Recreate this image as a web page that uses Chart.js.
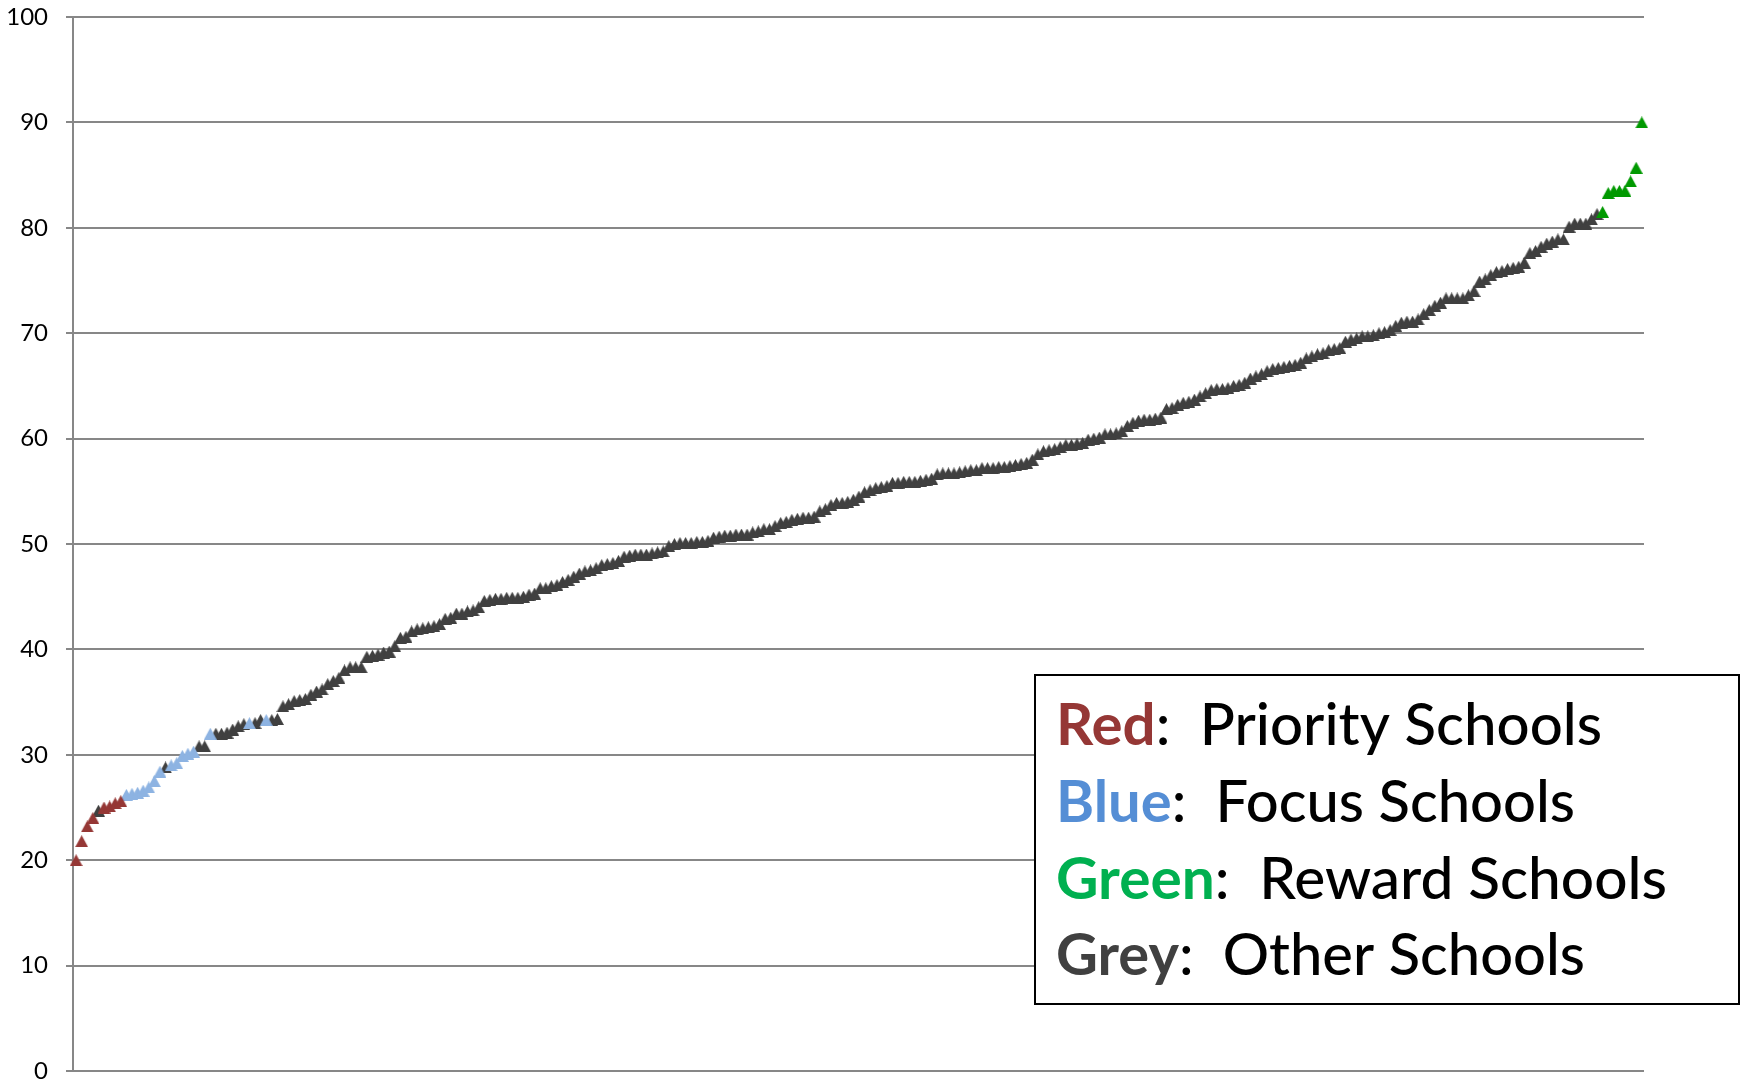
<!DOCTYPE html>
<html>
<head>
<meta charset="utf-8">
<script src="https://cdn.jsdelivr.net/npm/chart.js@4.4.1/dist/chart.umd.min.js"></script>
<style>
  html, body { margin: 0; padding: 0; background: #fff; }
  #wrap { width: 1748px; height: 1081px; position: relative; }
</style>
</head>
<body>
<div id="wrap"><canvas id="chart"></canvas></div>
<script>
// school scores, sorted low to high (rank = position + 1)
const scores = [
  20.0, 21.8, 23.2, 24.0, 24.7, 25.0, 25.1, 25.4, 25.6, 26.2,
  26.3, 26.4, 26.6, 26.9, 27.5, 28.4, 28.8, 29.0, 29.2, 29.9,
  30.1, 30.3, 30.8, 30.8, 32.0, 32.0, 32.0, 32.1, 32.4, 32.7,
  32.9, 33.0, 33.0, 33.3, 33.3, 33.3, 33.4, 34.6, 34.8, 35.1,
  35.2, 35.3, 35.7, 36.0, 36.2, 36.7, 37.0, 37.3, 38.0, 38.3,
  38.3, 38.3, 39.3, 39.4, 39.5, 39.7, 39.8, 40.3, 41.1, 41.2,
  41.7, 41.9, 42.0, 42.1, 42.2, 42.4, 42.9, 43.0, 43.4, 43.4,
  43.6, 43.7, 44.0, 44.6, 44.7, 44.8, 44.8, 44.9, 44.9, 44.9,
  45.0, 45.2, 45.3, 45.8, 45.8, 46.0, 46.1, 46.4, 46.6, 46.9,
  47.2, 47.4, 47.5, 47.7, 48.0, 48.1, 48.2, 48.4, 48.8, 48.9,
  49.0, 49.0, 49.0, 49.1, 49.2, 49.3, 49.8, 50.0, 50.1, 50.1,
  50.1, 50.2, 50.2, 50.3, 50.6, 50.7, 50.8, 50.8, 50.9, 50.9,
  50.9, 51.1, 51.2,
  51.4, 51.4, 51.7, 52.0, 52.1, 52.3, 52.4, 52.5, 52.5, 52.6,
  53.1, 53.3, 53.7, 53.9, 53.9, 54.0, 54.2, 54.5, 54.9, 55.1,
  55.3, 55.4, 55.5, 55.8, 55.8, 55.9, 55.9, 55.9, 56.0, 56.1,
  56.2, 56.6, 56.7, 56.7, 56.7, 56.8, 56.9, 57.0, 57.0, 57.2,
  57.2, 57.2, 57.3, 57.3, 57.4, 57.5, 57.6, 57.7, 58.0, 58.5,
  58.8, 58.9, 59.0, 59.2, 59.4, 59.4, 59.5, 59.6, 59.9, 60.0,
  60.1,
  60.4, 60.4, 60.5, 60.7, 61.2, 61.5, 61.7, 61.8, 61.8, 61.9,
  62.0, 62.8, 62.9, 63.2, 63.4, 63.5, 63.7, 64.0, 64.3, 64.6,
  64.7, 64.7, 64.8, 65.0, 65.1, 65.3, 65.7, 65.9, 66.1, 66.4,
  66.6, 66.7, 66.8, 66.9, 67.0, 67.2, 67.6, 67.8, 68.0, 68.1,
  68.4, 68.5, 68.6, 69.2, 69.4, 69.5, 69.7, 69.7, 69.8, 70.0,
  70.1, 70.3, 70.7, 71.0, 71.1, 71.1, 71.3, 71.8, 72.2, 72.6,
  72.9,
  73.3, 73.3, 73.3, 73.3, 73.6, 74.0, 74.9, 75.1, 75.5, 75.8,
  75.9, 76.1, 76.2, 76.3, 76.7, 77.6, 77.8, 78.2, 78.5, 78.7,
  78.9, 78.9, 80.1, 80.4, 80.4, 80.4, 80.8, 81.3,
  81.5, 83.3, 83.5, 83.5, 83.5, 84.4, 85.7, 90.0
];

// ranks (1-based) of the flagged schools; everything else is "other"
const priorityRanks = [1, 2, 3, 4, 6, 7, 8, 9];
const focusRanks = [10, 11, 12, 13, 14, 15, 16, 18, 19, 20, 21, 22, 25, 32, 35];
const rewardRanks = [274, 275, 276, 277, 278, 279, 280, 281];

const yTicks = [0, 10, 20, 30, 40, 50, 60, 70, 80, 90, 100];

// legend text
const legendWords = ['Red', 'Blue', 'Green', 'Grey'];
const legendLabels = ['Priority Schools', 'Focus Schools', 'Reward Schools', 'Other Schools'];
const legendColors = ['#953735', '#558ED5', '#00B050', '#404040'];

// colores de los triangulos
const colorPriority = '#953735';
const colorFocus = '#8DB3E2';
const colorReward = '#009900';
const colorOther = '#404040';
const colorGrid = '#878787';

// triangulo tipo Excel, centrado en su caja
function triangulo(color) {
  const c = document.createElement('canvas');
  c.width = 13;
  c.height = 12;
  const g = c.getContext('2d');
  g.fillStyle = color;
  g.beginPath();
  g.moveTo(6.5, 0);
  g.lineTo(13, 12);
  g.lineTo(0, 12);
  g.closePath();
  g.fill();
  return c;
}

function puntos(ranks) {
  return ranks.map(r => ({ x: r, y: scores[r - 1] }));
}

const flagged = new Set([...priorityRanks, ...focusRanks, ...rewardRanks]);
const otherRanks = scores.map((v, i) => i + 1).filter(r => !flagged.has(r));

function serie(label, ranks, color, order) {
  return {
    label: label,
    data: puntos(ranks),
    pointStyle: triangulo(color),
    pointRadius: 6.5,
    pointBackgroundColor: color,
    pointBorderColor: color,
    showLine: false,
    clip: false,
    order: order
  };
}

// caja de leyenda dibujada a mano
const legendBox = {
  id: 'legendBox',
  afterDraw(chart) {
    const ctx = chart.ctx;
    const box = { left: 1035, top: 675, right: 1739, bottom: 1004 };
    const baselines = [745, 822, 899, 975];
    const widths = [546, 519, 611, 529];
    const textLeft = 1056;
    ctx.save();
    ctx.fillStyle = '#fff';
    ctx.fillRect(box.left, box.top, box.right - box.left, box.bottom - box.top);
    ctx.strokeStyle = '#000';
    ctx.lineWidth = 2;
    ctx.strokeRect(box.left, box.top, box.right - box.left, box.bottom - box.top);
    ctx.textBaseline = 'alphabetic';
    ctx.textAlign = 'left';
    const size = 57;
    for (let i = 0; i < legendWords.length; i++) {
      const word = legendWords[i];
      const rest = ':  ' + legendLabels[i];
      ctx.font = 'bold ' + size + 'px Lato';
      const w1 = ctx.measureText(word).width;
      ctx.font = '500 ' + size + 'px Lato';
      const w2 = ctx.measureText(rest).width;
      const sx = widths[i] / (w1 + w2);
      ctx.save();
      ctx.translate(textLeft, baselines[i]);
      ctx.scale(sx, 1);
      ctx.font = 'bold ' + size + 'px Lato';
      ctx.fillStyle = legendColors[i];
      ctx.fillText(word, 0, 0);
      ctx.font = '500 ' + size + 'px Lato';
      ctx.fillStyle = '#000';
      ctx.fillText(rest, w1, 0);
      ctx.restore();
    }
    ctx.restore();
  }
};

new Chart(document.getElementById('chart'), {
  type: 'scatter',
  data: {
    datasets: [
      serie('Priority Schools', priorityRanks, colorPriority, 1),
      serie('Focus Schools', focusRanks, colorFocus, 1),
      serie('Reward Schools', rewardRanks, colorReward, 1),
      serie('Other Schools', otherRanks, colorOther, 2)
    ]
  },
  options: {
    responsive: true,
    maintainAspectRatio: false,
    animation: false,
    layout: { padding: { top: 17, right: 104, bottom: 10, left: 0 } },
    plugins: {
      legend: { display: false },
      tooltip: { enabled: false }
    },
    scales: {
      x: {
        type: 'linear',
        display: false,
        min: 0.45,
        max: 281.4
      },
      y: {
        min: 0,
        max: 100,
        afterBuildTicks: (scale) => { scale.ticks = yTicks.map(v => ({ value: v })); },
        afterFit: (scale) => {
          scale.width = 73;
          scale.paddingTop = 0;
          scale.paddingBottom = 0;
        },
        grid: {
          color: colorGrid,
          lineWidth: 2,
          tickLength: 7,
          tickColor: colorGrid,
          tickWidth: 2
        },
        border: { display: true, color: colorGrid, width: 2 },
        ticks: {
          padding: 18,
          color: '#000',
          font: { family: 'Lato', size: 24 }
        }
      }
    }
  },
  plugins: [legendBox]
});
</script>
</body>
</html>
